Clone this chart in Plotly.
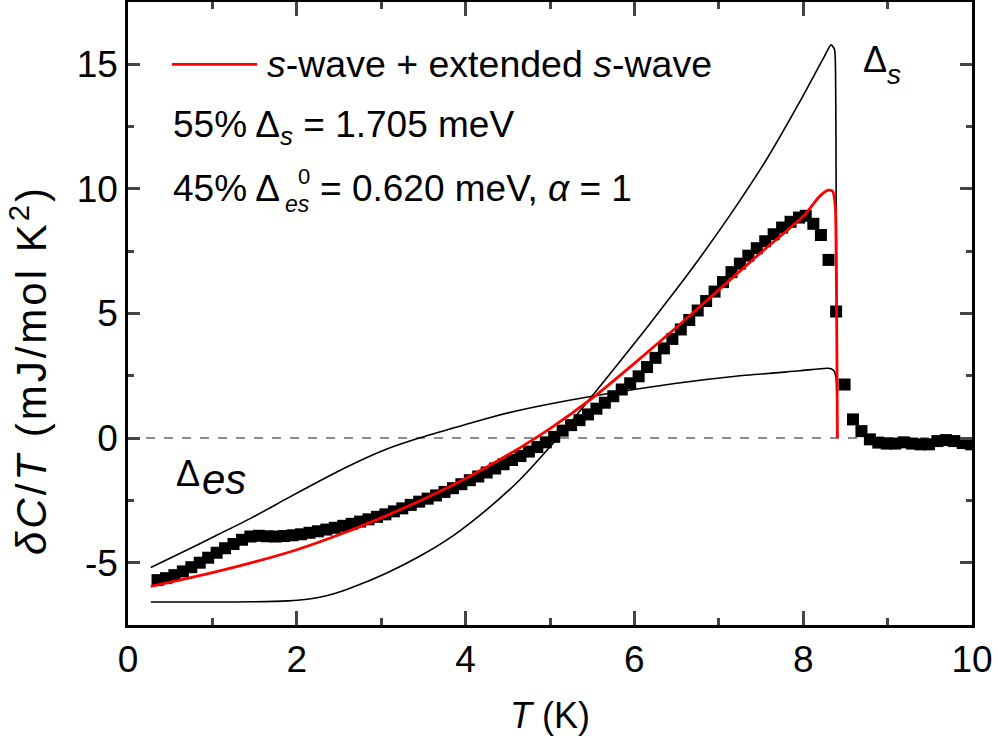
import plotly.graph_objects as go

# ---------------- data ----------------
T_data = [0.35, 0.45, 0.55, 0.65, 0.75, 0.85, 0.95, 1.05, 1.15, 1.25, 1.35, 1.45,
          1.55, 1.65, 1.75, 1.85, 1.95, 2.05, 2.15, 2.25, 2.35, 2.45, 2.55, 2.65,
          2.75, 2.85, 2.95, 3.05, 3.15, 3.25, 3.35, 3.45, 3.55, 3.65, 3.75, 3.85,
          3.95, 4.05, 4.15, 4.25, 4.35, 4.45, 4.55, 4.65, 4.75, 4.85, 4.95, 5.05,
          5.15, 5.25, 5.35, 5.45, 5.55, 5.65, 5.75, 5.85, 5.95, 6.05, 6.15, 6.25,
          6.35, 6.45, 6.55, 6.65, 6.75, 6.85, 6.95, 7.05, 7.15, 7.25, 7.35, 7.45,
          7.55, 7.65, 7.75, 7.85, 7.95, 8.03, 8.12, 8.21, 8.30, 8.39, 8.49, 8.59,
          8.69, 8.79, 8.89, 8.99, 9.09, 9.19, 9.29, 9.39, 9.49, 9.59, 9.69, 9.79,
          9.89, 9.99]
dCT_data = [-5.70, -5.62, -5.50, -5.35, -5.18, -5.00, -4.80, -4.60, -4.42, -4.25, -4.08, -3.95,
            -3.92, -3.94, -3.95, -3.93, -3.90, -3.86, -3.80, -3.74, -3.67, -3.60, -3.52, -3.44,
            -3.35, -3.26, -3.16, -3.06, -2.94, -2.82, -2.68, -2.55, -2.43, -2.30, -2.16, -2.01,
            -1.85, -1.69, -1.54, -1.38, -1.22, -1.05, -0.88, -0.72, -0.54, -0.36, -0.17, 0.05,
            0.30, 0.52, 0.72, 0.95, 1.18, 1.42, 1.68, 1.95, 2.20, 2.48, 2.85, 3.22,
            3.60, 3.98, 4.36, 4.74, 5.12, 5.50, 5.88, 6.26, 6.66, 7.00, 7.32, 7.62,
            7.90, 8.18, 8.45, 8.68, 8.85, 8.92, 8.60, 8.15, 7.15, 5.08, 2.15, 0.75,
            0.28, -0.05, -0.18, -0.22, -0.22, -0.17, -0.22, -0.25, -0.25, -0.12, -0.08, -0.12,
            -0.20, -0.25]

# fit: s-wave + extended s-wave (red)
T_fit = [0.27, 0.5, 1.0, 1.5, 2.0, 2.5, 3.0, 3.5, 4.0, 4.5, 5.0, 5.5, 6.0, 6.5,
         7.0, 7.5, 8.0, 8.2, 8.3, 8.35, 8.38, 8.39, 8.40, 8.405]
dCT_fit = [-5.95, -5.78, -5.40, -4.97, -4.48, -3.88, -3.20, -2.45, -1.62, -0.68, 0.38, 1.60, 3.00, 4.45,
           5.95, 7.45, 8.90, 9.72, 9.95, 9.90, 9.30, 7.50, 3.00, 0.0]

# single-gap s-wave component (Delta_s)
T_s = [0.27, 1.0, 1.5, 1.9, 2.1, 2.27, 2.45, 2.66, 3.06, 3.45, 3.85, 4.24, 4.64, 5.0, 5.43, 5.8,
       6.14, 6.5, 6.8, 7.2, 7.56, 7.96, 8.24, 8.33, 8.37, 8.385, 8.39, 8.40, 8.405]
dCT_s = [-6.58, -6.58, -6.57, -6.53, -6.48, -6.39, -6.24, -5.99, -5.42, -4.75, -3.92, -2.90, -1.68, -0.35, 1.40, 2.95,
         4.40, 5.98, 7.35, 9.28, 11.15, 13.50, 15.25, 15.78, 15.60, 14.0, 10.0, 4.0, 0.0]

# extended s-wave component (Delta_es)
T_es = [0.27, 0.68, 1.08, 1.47, 1.87, 2.27, 2.66, 3.06, 3.45, 3.85, 4.24, 4.64, 5.23,
        5.8, 6.5, 7.2, 7.96, 8.3, 8.36, 8.39, 8.40, 8.405]
dCT_es = [-5.19, -4.52, -3.85, -3.19, -2.45, -1.72, -1.05, -0.45, 0.00, 0.40, 0.78, 1.12, 1.52,
          1.85, 2.20, 2.48, 2.70, 2.80, 2.72, 2.40, 1.00, 0.0]

x_ticks = [0, 2, 4, 6, 8, 10]
x_labels = ["0", "2", "4", "6", "8", "10"]
y_ticks = [-5, 0, 5, 10, 15]
y_labels = ["-5", "0", "5", "10", "15"]

FONT = "Liberation Sans, Arial, sans-serif"

fig = go.Figure()

fig.add_hline(y=0, line=dict(color="#666666", width=1.5, dash="dash"), layer="below")

fig.add_trace(go.Scatter(x=T_s, y=dCT_s, mode="lines", line_shape="spline",
                         line=dict(color="black", width=1.6, smoothing=0.6), showlegend=False))
fig.add_trace(go.Scatter(x=T_es, y=dCT_es, mode="lines", line_shape="spline",
                         line=dict(color="black", width=1.6, smoothing=0.6), showlegend=False))
fig.add_trace(go.Scatter(x=T_data, y=dCT_data, mode="markers",
                         marker=dict(symbol="square", size=12, color="black"),
                         showlegend=False))
fig.add_trace(go.Scatter(x=T_fit, y=dCT_fit, mode="lines", line_shape="spline",
                         line=dict(color="#ff0000", width=2.8, smoothing=0.6), showlegend=False))

# legend sample line
fig.add_shape(type="line", x0=0.52, x1=1.53, y0=15, y1=15,
              line=dict(color="#ff0000", width=2.8))

ann = []
def A(x, y, text, size, xanchor="left", xref="x", yref="y", angle=0, yanchor="middle"):
    ann.append(dict(x=x, y=y, xref=xref, yref=yref, text=text, showarrow=False,
                    xanchor=xanchor, yanchor=yanchor, textangle=angle,
                    font=dict(family=FONT, size=size, color="black")))

A(1.62, 15.0, "<i>s</i>-wave + extended <i>s</i>-wave", 37.5)
A(0.51, 12.5, "55% Δ<sub><i>s</i></sub> = 1.705 meV", 37)
A(0.51, 10.0, "45% Δ", 37)
A(1.99, 10.5, "0", 22)
A(1.84, 9.38, "<i>es</i>", 23)
A(2.25, 10.0, "= 0.620 meV, <i>α</i> = 1", 37)
A(8.68, 15.18, "Δ", 36)
A(8.97, 14.58, "<i>s</i>", 28)
A(0.55, -1.42, "Δ", 36)
A(0.85, -1.67, "<i>es</i>", 42)

# axis titles
A(0.5, -0.145, "<i>T</i> (K)", 36, xanchor="center", xref="paper", yref="paper")
A(-0.118, 0.41,
  "<span style='letter-spacing:3px'><i>δC</i>/<i>T</i> (mJ/mol K<sup>2</sup>)</span>",
  42, xanchor="center", xref="paper", yref="paper", angle=-90)

fig.update_layout(
    width=998, height=747,
    margin=dict(l=128, r=26, t=2, b=122),
    paper_bgcolor="white", plot_bgcolor="white",
    font=dict(family=FONT, size=36, color="black"),
    annotations=ann,
    xaxis=dict(range=[0, 10], tickvals=x_ticks, ticktext=x_labels, ticks="inside",
               ticklen=14, tickwidth=2.5,
               minor=dict(dtick=1, ticks="inside", ticklen=7, tickwidth=2.5),
               showline=True, linewidth=2.5, linecolor="black", mirror="ticks",
               showgrid=False, zeroline=False, automargin=False,
               tickfont=dict(family=FONT, size=37)),
    yaxis=dict(range=[-7.5, 17.5], tickvals=y_ticks, ticktext=y_labels, ticks="inside",
               ticklen=12, tickwidth=2.5,
               minor=dict(dtick=2.5, ticks="inside", ticklen=6, tickwidth=2.5),
               showline=True, linewidth=2.5, linecolor="black", mirror="ticks",
               showgrid=False, zeroline=False, automargin=False,
               tickfont=dict(family=FONT, size=37)),
)

fig.write_html("out.html", config={"displayModeBar": False},
               post_script="document.body.style.margin='0px';")
